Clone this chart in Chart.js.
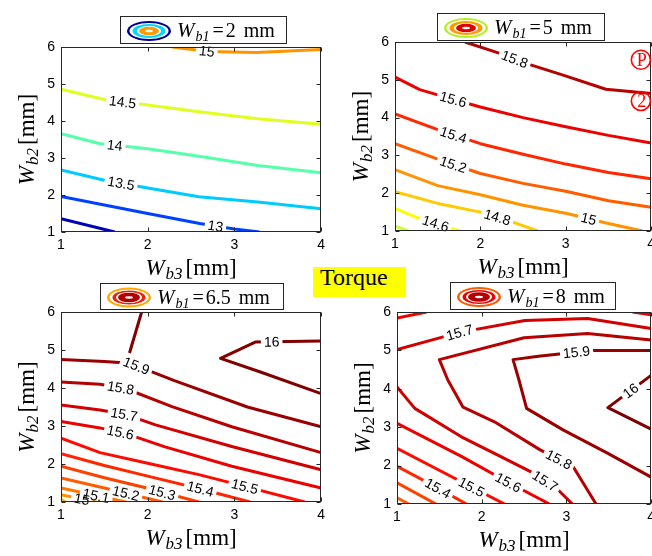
<!DOCTYPE html>
<html>
<head>
<meta charset="utf-8">
<script src="https://cdn.jsdelivr.net/npm/chart.js@4.4.1/dist/chart.umd.min.js"></script>
<style>
html,body{margin:0;padding:0;background:#fff;}
body{position:relative;width:652px;height:556px;overflow:hidden;}
canvas{position:absolute;}
#torque{position:absolute;left:313px;top:267px;width:93px;height:30px;background:#ffff00;overflow:hidden;}
#torque span{position:absolute;left:7px;top:-2px;font:24px "Liberation Serif";line-height:24px;color:#000;white-space:nowrap;}
</style>
</head>
<body>
<canvas id="cTL" style="left:0;top:0"></canvas>
<canvas id="cTR" style="left:330px;top:0"></canvas>
<canvas id="cBL" style="left:0;top:278px"></canvas>
<canvas id="cBR" style="left:330px;top:278px"></canvas>
<div id="torque"><span>Torque</span></div>
<script>
// ---------------- DATA ----------------
const xTicks = [1, 2, 3, 4];
const yTicks = [1, 2, 3, 4, 5, 6];
const wb1Values = ['2', '5', '6.5', '8'];
const centerLabel = 'Torque';

// Top-left: Wb1 = 2 mm
const tlLevels = [12.5, 13, 13.5, 14, 14.5, 15];
const tlLines = [
  [[1,1.36],[1.62,1]],
  [[1,1.96],[1.5,1.73],[2,1.5],[2.6,1.23],[3,1.08],[3.29,1]],
  [[1,2.68],[1.5,2.4],[2,2.19],[2.59,1.95],[3.27,1.81],[4,1.63]],
  [[1,3.66],[1.44,3.39],[2,3.25],[2.59,3.05],[3.27,2.8],[4,2.6]],
  [[1,4.86],[1.5,4.58],[2,4.43],[2.59,4.25],[3.27,4.06],[4,3.91]],
  [[2.28,6],[2.7,5.88],[3.25,5.85],[4,5.93]]
];
const tlLabels = [[15,2.68,5.86],[14.5,1.71,4.51],[14,1.62,3.32],[13.5,1.69,2.29],[13,2.78,1.14]];

// Top-right: Wb1 = 5 mm
const trLevels = [14.4, 14.6, 14.8, 15, 15.2, 15.4, 15.6, 15.8];
const trLines = [
  [[1,1.13],[1.16,1]],
  [[1,1.6],[1.25,1.36],[1.76,1]],
  [[1,2.04],[1.5,1.73],[2,1.5],[2.3,1.3],[2.67,1]],
  [[1,2.62],[1.5,2.2],[2,1.96],[2.5,1.68],[3,1.47],[3.5,1.2],[3.9,1]],
  [[1,3.31],[1.5,2.9],[2,2.52],[2.5,2.26],[3,2.05],[3.5,1.8],[4,1.63]],
  [[1,4.1],[1.5,3.68],[2,3.31],[2.5,3.03],[3,2.77],[3.5,2.55],[4,2.38]],
  [[1,5.07],[1.29,4.74],[1.5,4.6],[2,4.28],[2.5,4.0],[3,3.76],[3.5,3.53],[4,3.33]],
  [[1.82,6],[2.2,5.72],[2.58,5.4],[2.96,5.13],[3.47,4.75],[4,4.64]]
];
const trLabels = [[15.8,2.4,5.53],[15.6,1.68,4.47],[15.4,1.68,3.5],[15.2,1.68,2.75],[15,3.26,1.25],[14.8,2.19,1.3],[14.6,1.47,1.15]];
const trMarks = [['P',3.88,5.53],['2',3.88,4.44]];

// Bottom-left: Wb1 = 6.5 mm
const blLevels = [14.9, 15, 15.1, 15.2, 15.3, 15.4, 15.5, 15.6, 15.7, 15.8, 15.9, 16, 16];
const blLines = [
  [[1,1.06],[1.06,1]],
  [[1,1.19],[1.41,1]],
  [[1,1.37],[1.4,1.17],[1.75,1]],
  [[1,1.63],[1.5,1.37],[2.17,1]],
  [[1,1.94],[1.5,1.64],[2,1.36],[2.59,1]],
  [[1,2.27],[1.5,1.96],[2,1.68],[2.6,1.35],[3.18,1]],
  [[1,2.68],[1.45,2.3],[2,2.02],[2.59,1.72],[3.12,1.41],[3.81,1]],
  [[1,3.12],[1.45,2.95],[1.75,2.8],[2.2,2.45],[2.97,1.94],[4,1.37]],
  [[1,3.55],[1.45,3.42],[1.75,3.3],[2.09,3.03],[2.97,2.46],[4,1.85]],
  [[1,4.16],[1.45,4.1],[1.75,3.98],[2.28,3.51],[2.97,2.98],[4,2.3]],
  [[1,4.75],[1.5,4.7],[1.8,4.65],[2.3,4.2],[3.15,3.5],[4,2.98]],
  [[1.93,6],[1.79,4.92]],
  [[4,5.24],[3.24,5.21],[2.84,4.78],[3.3,4.42],[4,3.85]]
];
const blLabels = [[16,3.43,5.21],[15.9,1.88,4.65],[15.8,1.69,4.03],[15.7,1.73,3.33],[15.6,1.69,2.88],[15.5,3.12,1.41],[15.4,2.61,1.37],[15.3,2.17,1.28],[15.2,1.75,1.24],[15.1,1.41,1.22],[15,1.24,1.06]];

// Bottom-right: Wb1 = 8 mm
const brLevels = [15.2, 15.3, 15.4, 15.5, 15.6, 15.6, 15.6, 15.7, 15.7, 15.8, 15.9, 16];
const brLines = [
  [[1,1.16],[1.14,1]],
  [[1,1.55],[1.46,1]],
  [[1,1.98],[1.48,1.42],[1.82,1]],
  [[1,2.45],[1.68,1.67],[2.27,1]],
  [[1,3.1],[1.76,2.24],[2.3,1.58],[2.8,1]],
  [[1,5.84],[1.35,6]],
  [[3.78,6],[4,5.93]],
  [[1,4.05],[1.21,3.49],[1.76,2.75],[2.22,2.24],[2.57,1.85],[2.75,1.6],[2.9,1.37],[3.07,1]],
  [[1,5.02],[1.74,5.47],[2.51,5.78],[3.25,5.83],[4,5.57]],
  [[4,5.27],[3.25,5.44],[2.5,5.33],[1.5,4.76],[1.6,4.23],[1.78,3.52],[2.15,3.14],[2.69,2.41],[3.08,1.97],[3.35,1]],
  [[4,5.0],[3.3,5.0],[2.67,4.85],[2.37,4.76],[2.44,4.23],[2.53,3.49],[2.96,2.93],[3.49,2.32],[4,1.7]],
  [[4,4.35],[3.49,3.51],[4,2.95]]
];
const brLabels = [[15.7,1.74,5.47],[15.9,3.12,4.95],[16,3.76,3.95],[15.8,2.9,2.11],[15.7,2.75,1.6],[15.6,2.3,1.5],[15.5,1.87,1.4],[15.4,1.48,1.4]];

// ---------------- STYLE / DRAWING ----------------
const SERIF = '"Liberation Serif", "Times New Roman", serif';
const SANS = '"Liberation Sans", Arial, sans-serif';
const LABEL_FONT = '14px ' + SANS;
function jet(v, lo = 12.3, hi = 16) {
  const t = (v - lo) / (hi - lo);
  const f = c => Math.round(255 * Math.max(0, Math.min(1, 1.5 - Math.abs(4 * t - c))));
  return `rgb(${f(3)},${f(2)},${f(1)})`;
}
function drawRich(ctx, segs, x, y, align) {
  let w = 0;
  segs.forEach(s => { ctx.font = s[1]; w += ctx.measureText(s[0]).width + (s[3] || 0); });
  let cx = align === 'center' ? x - w / 2 : x;
  ctx.textAlign = 'left'; ctx.textBaseline = 'alphabetic';
  segs.forEach(s => { ctx.font = s[1]; ctx.fillText(s[0], cx, y + (s[2] || 0)); cx += ctx.measureText(s[0]).width + (s[3] || 0); });
}
function titleSegs(sub) {
  return [['W', 'italic 23px ' + SERIF, 0, 1], [sub, 'italic 17px ' + SERIF, 4, 3], ['[mm]', '23px ' + SERIF, 0, 0]];
}

const deco = {
  id: 'deco',
  beforeDatasetsDraw(chart, args, o) {
    const ctx = chart.ctx, xs = chart.scales.x, ys = chart.scales.y;
    ctx.save(); ctx.font = LABEL_FONT;
    chart.$labels = (o.labels || []).map(([lv, x, y]) => {
      const px = xs.getPixelForValue(x), py = ys.getPixelForValue(y);
      let best = null;
      chart.data.datasets.forEach((ds, di) => {
        if (ds.level !== lv) return;
        const pts = ds.data.map(p => [xs.getPixelForValue(p.x), ys.getPixelForValue(p.y)]);
        for (let i = 0; i < pts.length - 1; i++) {
          const [x1, y1] = pts[i], [x2, y2] = pts[i + 1];
          const dx = x2 - x1, dy = y2 - y1, L = dx * dx + dy * dy || 1;
          let t = ((px - x1) * dx + (py - y1) * dy) / L; t = Math.max(0, Math.min(1, t));
          const qx = x1 + t * dx, qy = y1 + t * dy, d = (qx - px) ** 2 + (qy - py) ** 2;
          if (!best || d < best.d) best = { d, qx, qy, ang: Math.atan2(dy, dx), di };
        }
      });
      if (!best) return null;
      let a = best.ang;
      if (a > Math.PI / 2) a -= Math.PI;
      if (a < -Math.PI / 2) a += Math.PI;
      best.ang = a; best.txt = String(lv); best.w = ctx.measureText(best.txt).width;
      return best;
    }).filter(Boolean);
    ctx.restore();
  },
  beforeDatasetDraw(chart, args) {
    const ctx = chart.ctx;
    ctx.save();
    const labs = (chart.$labels || []).filter(l => l.di === args.index);
    if (!labs.length) return;
    ctx.beginPath(); ctx.rect(0, 0, chart.width, chart.height);
    labs.forEach(l => {
      const hw = l.w / 2 + 3, hh = 6, c = Math.cos(l.ang), s = Math.sin(l.ang);
      const pts = [[-hw, -hh], [hw, -hh], [hw, hh], [-hw, hh]].map(([u, v]) => [l.qx + u * c - v * s, l.qy + u * s + v * c]);
      ctx.moveTo(pts[0][0], pts[0][1]);
      for (let i = 1; i < 4; i++) ctx.lineTo(pts[i][0], pts[i][1]);
      ctx.closePath();
    });
    ctx.clip('evenodd');
  },
  afterDatasetDraw(chart) { chart.ctx.restore(); },
  afterDatasetsDraw(chart, args, o) {
    const ctx = chart.ctx, a = chart.chartArea, xs = chart.scales.x, ys = chart.scales.y;
    ctx.save();
    ctx.font = LABEL_FONT; ctx.fillStyle = '#000'; ctx.textAlign = 'center'; ctx.textBaseline = 'middle';
    (chart.$labels || []).forEach(l => {
      ctx.save(); ctx.translate(l.qx, l.qy); ctx.rotate(l.ang); ctx.fillText(l.txt, 0, 1); ctx.restore();
    });
    const L = Math.round(a.left) + 0.5, T = Math.round(a.top) + 0.5, R = Math.round(a.right) - 0.5, B = Math.round(a.bottom) - 0.5;
    ctx.strokeStyle = '#262626'; ctx.lineWidth = 1;
    ctx.strokeRect(L, T, R - L, B - T);
    ctx.beginPath();
    xTicks.forEach(v => { const p = Math.round(xs.getPixelForValue(v)) + 0.5; ctx.moveTo(p, B); ctx.lineTo(p, B - 4); ctx.moveTo(p, T); ctx.lineTo(p, T + 4); });
    yTicks.forEach(v => { const p = Math.round(ys.getPixelForValue(v)) + 0.5; ctx.moveTo(L, p); ctx.lineTo(L + 4, p); ctx.moveTo(R, p); ctx.lineTo(R - 4, p); });
    ctx.stroke();
    ctx.restore();
  },
  afterDraw(chart, args, o) {
    const ctx = chart.ctx, a = chart.chartArea, xs = chart.scales.x, ys = chart.scales.y;
    ctx.save();
    ctx.fillStyle = '#000';
    drawRich(ctx, titleSegs('b3'), (a.left + a.right) / 2, a.bottom + 43, 'center');
    ctx.save(); ctx.translate(a.left - 27, (a.top + a.bottom) / 2); ctx.rotate(-Math.PI / 2);
    drawRich(ctx, titleSegs('b2'), 0, 0, 'center'); ctx.restore();
    const g = o.legend;
    ctx.fillStyle = '#fff'; ctx.fillRect(g.x, g.y, g.w, g.h);
    ctx.strokeStyle = '#262626'; ctx.lineWidth = 1; ctx.strokeRect(g.x + 0.5, g.y + 0.5, g.w - 1, g.h - 1);
    const cx = g.x + 29, cy = g.y + g.h / 2 + 1;
    g.rings.forEach(([col, rx, ry]) => { ctx.fillStyle = col; ctx.beginPath(); ctx.ellipse(cx, cy, rx, ry, 0, 0, Math.PI * 2); ctx.fill(); });
    ctx.fillStyle = '#000';
    drawRich(ctx, [['W', 'italic 21px ' + SERIF, 0, 1], ['b1', 'italic 14px ' + SERIF, 4, 3], ['=', '20px ' + SERIF, 0, 2], [g.value, '20px ' + SERIF, 0, 8], ['mm', '20px ' + SERIF, 0, 0]], g.x + 57, g.y + g.h / 2 + 7, 'left');
    (o.marks || []).forEach(([t, x, y]) => {
      const px = xs.getPixelForValue(x), py = ys.getPixelForValue(y);
      ctx.strokeStyle = '#ff0000'; ctx.lineWidth = 1.6;
      ctx.beginPath(); ctx.arc(px, py, 9.5, 0, Math.PI * 2); ctx.stroke();
      ctx.fillStyle = '#ff0000'; ctx.font = '18px ' + SERIF; ctx.textAlign = 'center'; ctx.textBaseline = 'middle';
      ctx.fillText(t, px + 1, py + 1);
    });
    ctx.restore();
  }
};

function makeChart(id, cw, ch, area, levels, lines, labels, legend, marks) {
  const cv = document.getElementById(id);
  cv.width = cw; cv.height = ch;
  const YW = 30, XH = 26;
  const datasets = lines.map((ln, i) => ({
    level: levels[i],
    data: ln.map(p => ({ x: p[0], y: p[1] })),
    showLine: true, borderColor: jet(levels[i]), backgroundColor: jet(levels[i]),
    borderWidth: 3, pointRadius: 0, tension: 0, clip: 0,
    borderJoinStyle: 'round', borderCapStyle: 'butt'
  }));
  const tickFont = { family: SANS, size: 14 };
  return new Chart(cv, {
    type: 'scatter',
    data: { datasets },
    options: {
      responsive: false, animation: false, events: [],
      layout: { padding: { left: area.l - YW, top: area.t, right: cw - area.r, bottom: ch - area.b - XH } },
      plugins: { legend: { display: false }, tooltip: { enabled: false }, deco: { labels, legend, marks } },
      scales: {
        x: { type: 'linear', min: 1, max: 4, afterFit: s => { s.height = XH; },
             afterBuildTicks: s => { s.ticks = xTicks.map(v => ({ value: v })); },
             ticks: { font: tickFont, color: '#000', padding: 5, maxRotation: 0, autoSkip: false },
             grid: { display: false, drawTicks: false }, border: { display: false } },
        y: { type: 'linear', min: 1, max: 6, afterFit: s => { s.width = YW; },
             afterBuildTicks: s => { s.ticks = yTicks.map(v => ({ value: v })); },
             ticks: { font: tickFont, color: '#000', padding: 6, autoSkip: false },
             grid: { display: false, drawTicks: false }, border: { display: false } }
      }
    },
    plugins: [deco]
  });
}

const W = '#ffffff';
makeChart('cTL', 330, 283, { l: 61, t: 47, r: 324, b: 232 }, tlLevels, tlLines, tlLabels,
  { x: 120, y: 16, w: 167, h: 28, value: wb1Values[0],
    rings: [['#00008f', 22, 10], [W, 19.5, 8], ['#00d8ff', 16.5, 7], [W, 12, 5], ['#ff9a00', 10, 4.3], [W, 4, 1.2]] });
makeChart('cTR', 330, 283, { l: 65, t: 42, r: 322, b: 231 }, trLevels, trLines, trLabels,
  { x: 107, y: 13, w: 168, h: 28, value: wb1Values[1],
    rings: [['#b4f020', 22, 10], [W, 19.5, 8], ['#ff9a00', 16.5, 7], [W, 12, 5], ['#e00000', 10, 4.3], [W, 4, 1.2]] }, trMarks);
makeChart('cBL', 330, 278, { l: 61, t: 34, r: 323, b: 224 }, blLevels, blLines, blLabels,
  { x: 100, y: 5, w: 184, h: 27, value: wb1Values[2],
    rings: [['#ffa800', 22, 10], [W, 19.5, 8], ['#ee2200', 16.5, 7], [W, 13, 5.5], ['#b00000', 11, 4.8], [W, 4, 1.2]] });
makeChart('cBR', 330, 278, { l: 67, t: 34, r: 324, b: 226 }, brLevels, brLines, brLabels,
  { x: 120, y: 4, w: 166, h: 28, value: wb1Values[3],
    rings: [['#ff5a00', 22, 10], [W, 19.5, 8], ['#ee0000', 16.5, 7], [W, 13, 5.5], ['#b40000', 11, 4.8], [W, 4, 1.2]] });
document.querySelector('#torque span').textContent = centerLabel;
</script>
</body>
</html>
